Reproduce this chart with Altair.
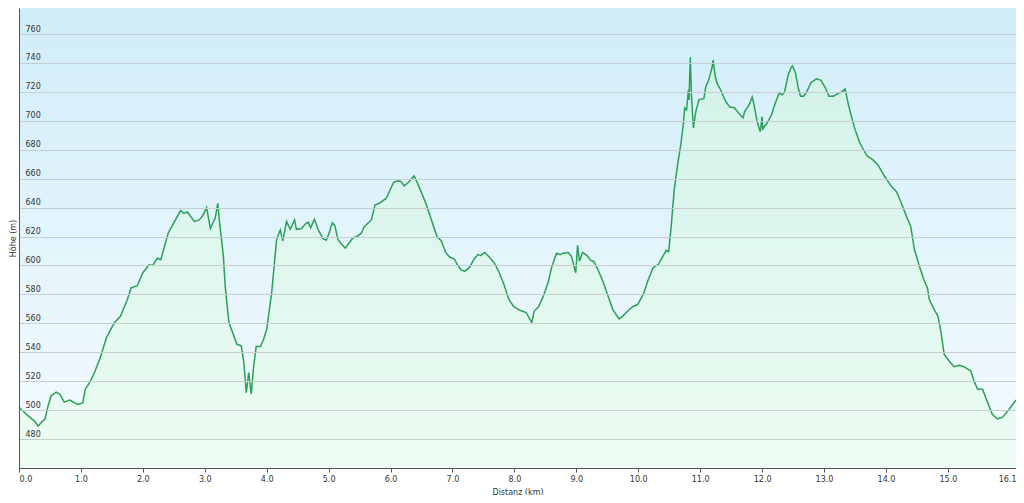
import altair as alt
import pandas as pd

distanz_km = [
    0.00, 0.15, 0.26, 0.31, 0.36, 0.42, 0.47, 0.52, 0.60, 0.66, 0.73, 0.82, 0.95, 1.03, 1.07, 1.14,
    1.22, 1.33, 1.41, 1.54, 1.64, 1.75, 1.81, 1.91, 2.00, 2.10, 2.16, 2.23, 2.29, 2.41, 2.50, 2.61,
    2.66, 2.72, 2.83, 2.91, 2.96, 3.03, 3.09, 3.17, 3.21, 3.24, 3.30, 3.33, 3.39, 3.52, 3.59, 3.63,
    3.67, 3.71, 3.75, 3.79, 3.83, 3.90, 3.95, 4.00, 4.08, 4.16, 4.22, 4.26, 4.32, 4.38, 4.45, 4.48,
    4.56, 4.62, 4.67, 4.71, 4.77, 4.83, 4.91, 4.96, 5.00, 5.06, 5.10, 5.15, 5.21, 5.27, 5.39, 5.46,
    5.53, 5.57, 5.63, 5.69, 5.75, 5.82, 5.93, 5.98, 6.05, 6.12, 6.17, 6.22, 6.29, 6.34, 6.38, 6.46,
    6.57, 6.66, 6.75, 6.82, 6.89, 6.95, 7.03, 7.08, 7.14, 7.20, 7.28, 7.35, 7.41, 7.46, 7.52, 7.59,
    7.68, 7.75, 7.83, 7.91, 7.99, 8.09, 8.19, 8.28, 8.32, 8.39, 8.47, 8.55, 8.60, 8.68, 8.74, 8.79,
    8.87, 8.92, 8.99, 9.02, 9.05, 9.10, 9.17, 9.23, 9.28, 9.35, 9.43, 9.51, 9.59, 9.69, 9.75, 9.83,
    9.91, 9.99, 10.08, 10.16, 10.24, 10.32, 10.40, 10.45, 10.49, 10.53, 10.58, 10.64, 10.69, 10.73,
    10.75, 10.78, 10.81, 10.82, 10.84, 10.86, 10.89, 10.93, 10.98, 11.06, 11.09, 11.14, 11.19, 11.21,
    11.24, 11.27, 11.33, 11.41, 11.48, 11.55, 11.62, 11.69, 11.72, 11.79, 11.84, 11.87, 11.92, 11.97,
    12.00, 12.01, 12.08, 12.15, 12.21, 12.28, 12.32, 12.36, 12.42, 12.47, 12.49, 12.54, 12.58, 12.62,
    12.67, 12.72, 12.79, 12.88, 12.95, 13.02, 13.08, 13.15, 13.23, 13.29, 13.34, 13.40, 13.50, 13.58,
    13.69, 13.79, 13.87, 13.98, 14.09, 14.17, 14.25, 14.33, 14.40, 14.46, 14.54, 14.61, 14.67, 14.70,
    14.78, 14.84, 14.89, 14.94, 15.02, 15.10, 15.18, 15.26, 15.37, 15.42, 15.48, 15.56, 15.64, 15.72,
    15.80, 15.88, 15.96, 16.04, 16.10,
]

hoehe_m = [
    502, 496, 492, 489, 491.5, 494, 503, 510, 512.5, 511, 505.5, 507, 504, 505, 514.5, 519,
    526, 538.5, 550, 560.5, 565, 576.5, 584.5, 586, 595, 600.5, 600, 605, 604, 622.5, 629.5, 638,
    636, 637, 630.5, 631.5, 634, 640, 625.5, 633, 643, 629.5, 606.5, 585.5, 560.5, 545.5, 544.5, 533,
    512, 526, 511, 530.5, 544, 544, 549, 556, 581, 618, 624.5, 617, 630.5, 625, 631.5, 625,
    625.5, 628.5, 630, 626, 632, 625, 618.5, 617.5, 621.5, 629.5, 627.5, 618, 614.5, 612, 619, 620,
    622.5, 626.5, 629, 631.5, 642, 643, 646.5, 651, 657.5, 658.5, 658, 655, 657.5, 660, 662, 654.5,
    643, 631.5, 620, 617, 609, 606, 604.5, 600.5, 597, 596, 599, 604.5, 607.5, 607, 609, 606,
    601.5, 595.5, 587, 576.5, 571.5, 569, 567.5, 560.5, 568.5, 571.5, 579, 589, 598.5, 608.5, 607.5, 608.5,
    609, 606.5, 595, 614, 603, 609, 607, 603.5, 603, 597, 589, 579, 569.5, 563, 565, 568.5,
    571.5, 573, 580, 590, 598.5, 600.5, 606.5, 610.5, 609.5, 626, 652, 671, 684.5, 698.5,
    709, 707.5, 721.5, 714.5, 744, 717, 695, 706.5, 714.5, 715.5, 723.5, 728.5, 736.5, 742,
    731.5, 726, 721.5, 713.5, 709.5, 709, 705.5, 702, 706.5, 711, 716.5, 711, 699.5, 692.5,
    703, 694.5, 698.5, 704, 712, 719.5, 718, 719.5, 731.5, 737, 738, 733, 723.5, 717,
    717, 720, 726.5, 729, 728, 723, 717, 717, 719, 720, 722, 710, 694, 684.5,
    676, 673, 669.5, 661.5, 654.5, 651, 643, 634, 627, 611, 599.5, 590.5, 584.5, 576.5,
    569.5, 565, 553.5, 538.5, 534, 530, 531, 530, 527, 520.5, 514.5, 514.5, 505.5, 497,
    494, 495, 499, 503.5, 507,
]

x_ticks = [0, 1, 2, 3, 4, 5, 6, 7, 8, 9, 10, 11, 12, 13, 14, 15, 16.1]
y_ticks = [480, 500, 520, 540, 560, 580, 600, 620, 640, 660, 680, 700, 720, 740, 760]

df = pd.DataFrame({"km": distanz_km, "h": hoehe_m})

W, H = 997, 460
FONT = "DejaVu Sans"

x_enc = alt.X(
    "km:Q",
    scale=alt.Scale(domain=[0, 16.1], nice=False, zero=False),
    axis=alt.Axis(
        title="Distanz  (km)", values=x_ticks, format=".1f", grid=False,
        labelFlush=True, tickSize=4, labelPadding=3, tickColor="#555",
        domainColor="#555", labelColor="#333", labelFontSize=8, labelFont=FONT,
        titleFont=FONT, titleFontSize=8, titleFontWeight="normal", titleColor="#333",
        titleY=24, titleBaseline="middle", zindex=1,
    ),
)
y_enc = alt.Y(
    "h:Q",
    scale=alt.Scale(domain=[460, 778], nice=False, zero=False),
    axis=alt.Axis(
        title="Höhe (m)", values=y_ticks, grid=True, gridColor="#c5cfd3", gridWidth=1,
        ticks=False, labelAlign="left", labelBaseline="bottom", labelPadding=-6,
        labelOffset=-1, labelColor="#333", labelFontSize=8, labelFont=FONT,
        domainColor="#555", titleFont=FONT, titleFontSize=8, titleFontWeight="normal",
        titleColor="#333", titleX=-6, titleY=230, titleBaseline="middle", zindex=1,
    ),
)

bg = alt.Chart(alt.Data(values=[{}])).mark_rect(
    color=alt.Gradient(
        gradient="linear",
        stops=[alt.GradientStop(color="#d0edf9", offset=0),
               alt.GradientStop(color="#f5fbfe", offset=1)],
        x1=0, x2=0, y1=0, y2=1,
    )
).encode(x=alt.value(0), x2=alt.value("width"), y=alt.value(0), y2=alt.value("height"))

area = alt.Chart(df).mark_area(
    color=alt.Gradient(
        gradient="linear",
        stops=[alt.GradientStop(color="#d3f2ea", offset=0),
               alt.GradientStop(color="#ecfcf2", offset=1)],
        x1=0, x2=0, y1=0, y2=1,
    ),
    interpolate="linear",
).encode(x=x_enc, y=y_enc, y2=alt.datum(460))

line = alt.Chart(df).mark_line(color="#2b9f57", strokeWidth=1.5).encode(x=x_enc, y=y_enc)

chart = alt.layer(bg, area, line).properties(
    width=W, height=H,
    autosize=alt.AutoSizeParams(type="none"),
    padding={"left": 11, "right": 0, "top": 0, "bottom": 27},
).configure_view(stroke="#bfc8cc", strokeWidth=1)

chart.save("out.html", embed_options={"renderer": "svg", "actions": False})
